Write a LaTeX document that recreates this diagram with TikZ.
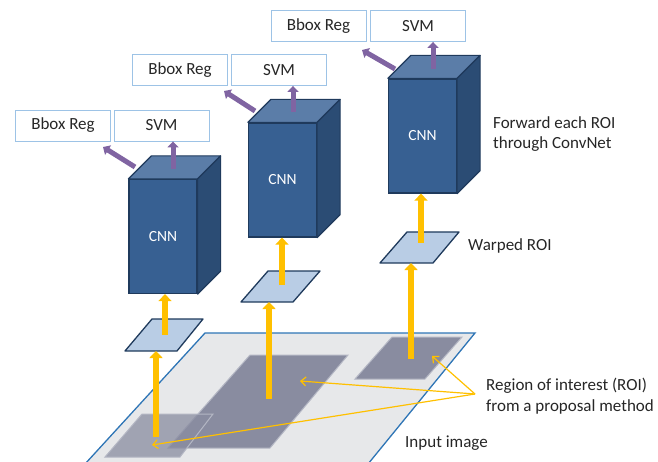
\documentclass[tikz,border=0pt]{standalone}
\usepackage{fontspec}
\setmainfont{Carlito}
\usetikzlibrary{arrows.meta,calc}

\definecolor{planefill}{HTML}{E7E8EA}
\definecolor{planeedge}{HTML}{2E75B6}
\definecolor{roifill}{HTML}{898CA0}
\definecolor{roiedge}{HTML}{B4B7C4}
\definecolor{warpfill}{HTML}{B9CDE5}
\definecolor{warpedge}{HTML}{1F3A5C}
\definecolor{cnnfront}{HTML}{376092}
\definecolor{cnntop}{HTML}{5B7DA8}
\definecolor{cnnside}{HTML}{2B4C74}
\definecolor{cnnedge}{HTML}{1F3A5C}
\definecolor{boxedge}{HTML}{9DC3E6}
\definecolor{featarrow}{HTML}{8064A2}
\definecolor{roiarrow}{HTML}{FFC000}

\tikzset{
  txt/.style={font=\fontsize{17}{20.5}\selectfont, text=black!85, align=left, inner sep=0pt},
  headbox/.style={draw=boxedge, line width=0.9pt, fill=white, minimum width=95pt,
                  minimum height=31pt, inner sep=0pt, text=black!85,
                  font=\fontsize{17}{20}\selectfont},
  cnnface/.style={draw=cnnedge, line width=1.2pt, fill=cnnfront, minimum width=68pt,
                  minimum height=114pt, inner sep=0pt, text=white,
                  font=\fontsize{15.5}{18}\selectfont},
  cnnpart/.style={draw=cnnedge, line width=1.2pt, line join=round},
  warp/.style={draw=warpedge, line width=1.3pt, fill=warpfill, line join=round},
  roi/.style={draw=roiedge, line width=1pt, fill=roifill},
  featline/.style={featarrow, line width=5pt, -{Triangle[length=6pt,width=11pt]}},
  roiline/.style={roiarrow, line width=6pt, -{Triangle[length=7pt,width=13pt]}},
  pointer/.style={roiarrow, line width=1.2pt, -{Straight Barb[length=5pt,width=9pt]}},
}

\begin{document}
\begin{tikzpicture}[x=1pt, y=-1pt]
\useasboundingbox (0,0) rectangle (658,462);

% input image plane
\draw[fill=planefill, draw=planeedge, line width=1.3pt]
  (205,333) -- (475,333) -- (368,464) -- (85,464) -- cycle;

% region proposals on the image
\draw[roi] (250,355) -- (348,355) -- (270,448) -- (168,448) -- cycle;
\draw[roi] (392,337) -- (462,337) -- (425,379) -- (355,379) -- cycle;
\draw[roi, fill opacity=0.75] (142,414) -- (213,414) -- (180,457) -- (105,457) -- cycle;
\coordinate (roiA) at (156,437);
\coordinate (roiB) at (269,399);
\coordinate (roiC) at (411,359);

% warped regions
\draw[warp] (152,319) -- (203,319) -- (177,351) -- (125,351) -- cycle;
\draw[warp] (268,271) -- (320,271) -- (293,302) -- (241,302) -- cycle;
\draw[warp] (407,232) -- (459,232) -- (433,263) -- (380,263) -- cycle;
\coordinate (wA) at (156,351);
\coordinate (wB) at (269,302);
\coordinate (wC) at (411,263);
\coordinate (wAt) at (165,335);
\coordinate (wBt) at (282,285);
\coordinate (wCt) at (421,243);

% CNN blocks
\foreach \n/\cx/\cy in {cnnA/163/236.5, cnnB/282.5/180, cnnC/422.5/136}{
  \node[cnnface] (\n) at (\cx,\cy) {CNN};
  \draw[cnnpart, fill=cnntop] (\n.north west) -- (\n.north east)
     -- ($(\n.north east)+(23,-23)$) -- ($(\n.north west)+(23,-23)$) -- cycle;
  \draw[cnnpart, fill=cnnside] (\n.north east) -- (\n.south east)
     -- ($(\n.south east)+(23,-23)$) -- ($(\n.north east)+(23,-23)$) -- cycle;
}

% output heads
\node[headbox] (bbA) at (63,125.5) {Bbox Reg};
\node[headbox] (svmA) at (161.5,125.5) {SVM};
\node[headbox] (bbB) at (180,70) {Bbox Reg};
\node[headbox] (svmB) at (279,70) {SVM};
\node[headbox] (bbC) at (318.5,26) {Bbox Reg};
\node[headbox] (svmC) at (418,26) {SVM};

% feature arrows to the heads
\coordinate (fA1) at (173,169);
\coordinate (fA2) at (135,167);
\coordinate (fB1) at (293,112);
\coordinate (fB2) at (255,111);
\coordinate (fC1) at (433,69);
\coordinate (fC2) at (395,69);
\draw[featline] (fA1) -- (fA1 |- svmA.south);
\draw[featline] (fA2) -- (103,147);
\draw[featline] (fB1) -- (fB1 |- svmB.south);
\draw[featline] (fB2) -- (224,91);
\draw[featline] (fC1) -- (fC1 |- svmC.south);
\draw[featline] (fC2) -- (362,50);

% regions to warped patches, patches to CNNs
\draw[roiline] (roiA) -- (wA);
\draw[roiline] (roiB) -- (wB);
\draw[roiline] (roiC) -- (wC);
\draw[roiline] (wAt) -- (wAt |- cnnA.south);
\draw[roiline] (wBt) -- (wBt |- cnnB.south);
\draw[roiline] (wCt) -- (wCt |- cnnC.south);

% labels
\node[txt, anchor=west] (fwd) at (493,134) {Forward each ROI\\through ConvNet};
\node[txt, anchor=west] (warped) at (468,246) {Warped ROI};
\node[txt, anchor=west] (region) at (486,396) {Region of interest (ROI)\\from a proposal method};
\node[txt, anchor=west] (input) at (405,443) {Input image};

% pointers from the region label
\coordinate (hub) at (475,394);
\draw[pointer] (hub) -- (432,356);
\draw[pointer] (hub) -- (300,381);
\draw[pointer] (hub) -- (152,445);
\end{tikzpicture}
\end{document}
